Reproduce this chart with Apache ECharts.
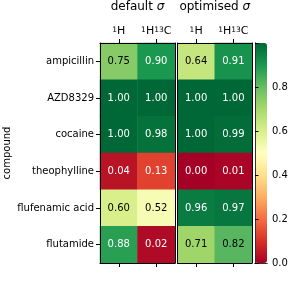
<!DOCTYPE html>
<html><head><meta charset="utf-8">
<script src="https://cdn.jsdelivr.net/npm/echarts@6/dist/echarts.min.js"></script>
<style>html,body{margin:0;padding:0;background:#fff}#c{width:291px;height:282px}</style>
</head><body><div id="c"></div>
<script>
const compounds = ['ampicillin','AZD8329','cocaine','theophylline','flufenamic acid','flutamide'];
const columns = ['{s|1}H','{s|1}H{s|13}C'];
const panelTitles = ['default {i|σ}','optimised {i|σ}'];
const defaultH  = [0.75, 1.00, 1.00, 0.04, 0.60, 0.88];
const defaultHC = [0.90, 1.00, 0.98, 0.13, 0.52, 0.02];
const optH      = [0.64, 1.00, 1.00, 0.00, 0.96, 0.71];
const optHC     = [0.91, 1.00, 0.99, 0.01, 0.97, 0.82];
const cbarTicks = [0, 0.2, 0.4, 0.6, 0.8];
const RdYlGn = ['#a50026','#d73027','#f46d43','#fdae61','#fee08b','#ffffbf','#d9ef8b','#a6d96a','#66bd63','#1a9850','#006837'];

const FONT = 'DejaVu Sans';
function cells(a, b) {
  const out = [];
  [a, b].forEach((arr, ci) => arr.forEach((v, ri) => {
    out.push({value: [ci, ri, v], label: {color: (v < 0.2 || v > 0.85) ? '#fff' : '#000'}});
  }));
  return out;
}
const grids = [
  {left: 100, top: 43, width: 75, height: 220},
  {left: 177.5, top: 43, width: 74.5, height: 220},
  {left: 255, top: 43, width: 12, height: 220}
];
const axLine = {show: true, lineStyle: {color: '#000', width: 1}};
const xAxis = [], yAxis = [];
for (let g = 0; g < 2; g++) {
  xAxis.push({type: 'category', gridIndex: g, data: columns, position: 'top', z: 10,
    axisLine: axLine, axisTick: {show: true, alignWithLabel: true, interval: 0, length: 4, lineStyle: {color: '#000'}},
    axisLabel: {interval: 0, fontFamily: FONT, fontSize: 11, color: '#000', margin: 6,
      rich: {s: {fontFamily: FONT, fontSize: 7.5, verticalAlign: 'top', color: '#000'}}},
    splitLine: {show: false}});
  xAxis.push({type: 'category', gridIndex: g, data: columns, position: 'bottom', z: 10,
    axisLine: axLine, axisTick: {show: true, alignWithLabel: true, interval: 0, length: 4, lineStyle: {color: '#000'}},
    axisLabel: {show: false}});
  yAxis.push({type: 'category', gridIndex: g, data: compounds, inverse: true, position: 'left', z: 10,
    axisLine: axLine,
    axisTick: {show: g === 0, alignWithLabel: true, interval: 0, length: 4, lineStyle: {color: '#000'}},
    axisLabel: {show: g === 0, interval: 0, fontFamily: FONT, fontSize: 10, color: '#000', margin: 6},
    name: g === 0 ? 'compound' : '', nameLocation: 'middle', nameGap: 88,
    nameTextStyle: {fontFamily: FONT, fontSize: 10, color: '#000'}});
  yAxis.push({type: 'category', gridIndex: g, data: compounds, inverse: true, position: 'right', z: 10,
    axisLine: axLine, axisTick: {show: false}, axisLabel: {show: false}});
}
// colorbar axes
xAxis.push({type: 'value', gridIndex: 2, min: 0, max: 1, position: 'top', z: 10,
  axisLine: {show: true, lineStyle: {color: '#333'}}, axisTick: {show: false}, axisLabel: {show: false}, splitLine: {show: false}});
xAxis.push({type: 'value', gridIndex: 2, min: 0, max: 1, position: 'bottom', z: 10,
  axisLine: {show: true, lineStyle: {color: '#333'}}, axisTick: {show: false}, axisLabel: {show: false}, splitLine: {show: false}});
yAxis.push({type: 'value', gridIndex: 2, min: 0, max: 1, interval: 0.2, position: 'left', z: 10,
  axisLine: {show: true, lineStyle: {color: '#333'}}, axisTick: {show: false}, axisLabel: {show: false}, splitLine: {show: false}});
yAxis.push({type: 'value', gridIndex: 2, min: 0, max: 1, interval: 0.2, position: 'right', z: 10,
  axisLine: {show: true, lineStyle: {color: '#333'}},
  axisTick: {show: true, length: 3.5, lineStyle: {color: '#000'}},
  axisLabel: {fontFamily: FONT, fontSize: 10, color: '#000', margin: 5,
    formatter: v => cbarTicks.some(t => Math.abs(t - v) < 1e-6) ? v.toFixed(1) : ''},
  splitLine: {show: false}});

const chart = echarts.init(document.getElementById('c'), null, {renderer: 'canvas'});
chart.setOption({
  animation: false,
  backgroundColor: '#fff',
  title: panelTitles.map((t, i) => ({
    text: t, left: i === 0 ? 137.5 : 214.75, top: 1, textAlign: 'center', padding: 0,
    textStyle: {fontFamily: FONT, fontSize: 12, fontWeight: 'normal', color: '#000',
      rich: {i: {fontFamily: FONT, fontSize: 12, fontStyle: 'italic', color: '#000'}}}
  })),
  grid: grids,
  xAxis: xAxis,
  yAxis: yAxis,
  visualMap: {type: 'continuous', min: 0, max: 1, seriesIndex: [0, 1], calculable: false,
    orient: 'vertical', left: 255, top: 43, itemWidth: 12, itemHeight: 220, padding: 0,
    text: null, showLabel: false, inRange: {color: RdYlGn}, z: 4},
  series: [
    {type: 'heatmap', xAxisIndex: 0, yAxisIndex: 0, data: cells(defaultH, defaultHC),
      label: {show: true, fontFamily: FONT, fontSize: 10, formatter: p => p.value[2].toFixed(2)}},
    {type: 'heatmap', xAxisIndex: 2, yAxisIndex: 2, data: cells(optH, optHC),
      label: {show: true, fontFamily: FONT, fontSize: 10, formatter: p => p.value[2].toFixed(2)}}
  ]
});
</script></body></html>
